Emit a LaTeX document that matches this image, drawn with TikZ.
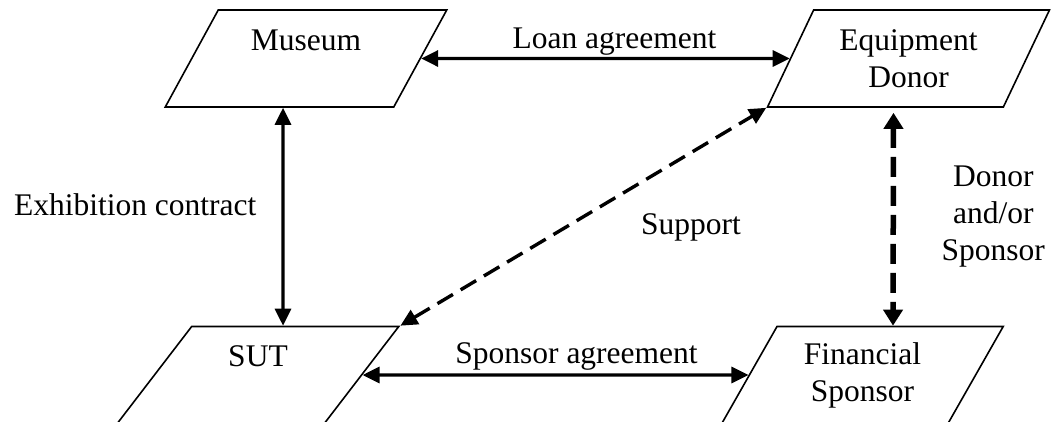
\documentclass[tikz,border=0pt]{standalone}
\usepackage{fontspec}
\setmainfont{Liberation Serif}
\usepackage{tikz}
\usetikzlibrary{positioning}
\usetikzlibrary{shapes.geometric}
\usetikzlibrary{arrows.meta}
\tikzset{party/.style={trapezium, trapezium left angle=60, trapezium right angle=120, trapezium stretches=true, draw, line width=1.6pt, minimum width=282pt, minimum height=97pt, inner sep=0pt, align=center, font=\fontsize{31.5}{37}\selectfont}}
\tikzset{lbl/.style={inner sep=0pt, align=center, font=\fontsize{31.5}{37}\selectfont}}
\tikzset{pact/.style={<->, line width=3.2pt}}
\tikzset{helps/.style={<->, line width=3.4pt, dash pattern=on 18pt off 9pt}}
\tikzset{backs/.style={<->, line width=5.5pt, dash pattern=on 20pt off 9pt, >={Triangle[length=16pt,width=19pt]}}}

\begin{document}
\begin{tikzpicture}[x=1pt, y=-1pt, >={Triangle[length=17pt,width=16pt]}]
\useasboundingbox (0,0) rectangle (1053,421);
\foreach \n/\x/\y/\t in {museum/306/58.5/{Museum\\\mbox{}}, donor/908.5/58.5/{Equipment\\Donor}, sut/258/375/{SUT\\\mbox{}}, sponsor/862.5/375/{Financial\\Sponsor}} {
\node[party] (\n) at (\x,\y) {\t};
}
\draw[pact] (museum.east) -- node[lbl, anchor=base, xshift=9pt, yshift=10.5pt] (loan) {Loan agreement} (donor.west);
\draw[pact] ([xshift=-23pt]museum.south) -- node[lbl, anchor=base east, xshift=-25pt, yshift=1pt] (exhib) {Exhibition contract} ([xshift=25pt]sut.north);
\draw[pact] (sut.east) -- node[lbl, anchor=base, xshift=21pt, yshift=12pt] (deal) {Sponsor agreement} (sponsor.west);
\draw[helps] (sut.top right corner) -- node[lbl, anchor=base west, xshift=56pt, yshift=-17.5pt] (support) {Support} (donor.bottom left corner);
\draw[backs] ([xshift=-15pt, yshift=-5pt]donor.south) -- node[lbl, anchor=north, xshift=100pt, yshift=56.5pt] (either) {Donor\\and/or\\Sponsor} ([xshift=30.5pt]sponsor.north);
\end{tikzpicture}
\end{document}
